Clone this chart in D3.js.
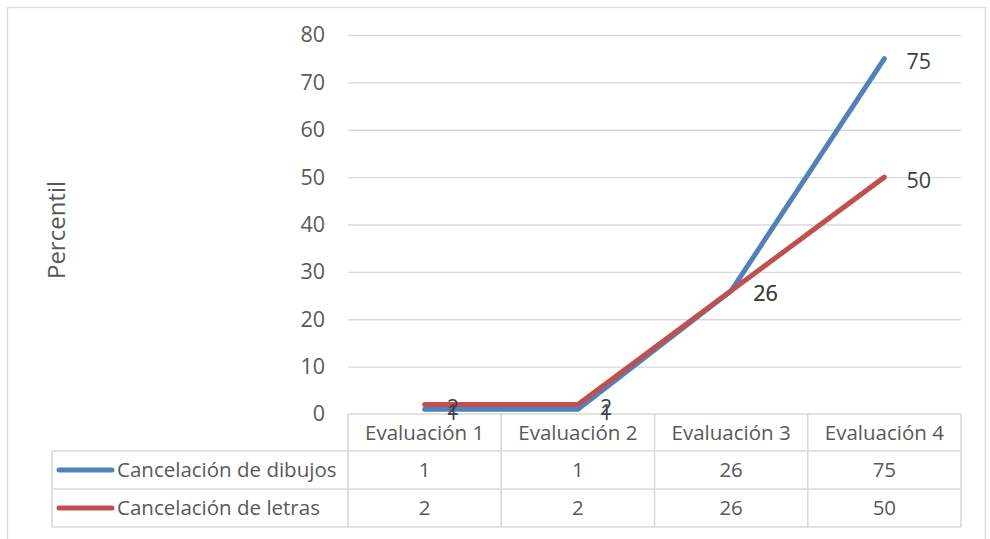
<!DOCTYPE html>
<html>
<head>
<meta charset="utf-8">
<script src="https://cdn.jsdelivr.net/npm/d3@7"></script>
<style>
  html, body { margin: 0; padding: 0; background: #fff; }
  svg { display: block; font-family: "Open Sans", "Noto Sans", sans-serif; }
</style>
</head>
<body>
<svg id="chart" width="990" height="539"></svg>
<script>
// Chart data
const categories = ["Evaluación 1", "Evaluación 2", "Evaluación 3", "Evaluación 4"];
const seriesNames = ["Cancelación de dibujos", "Cancelación de letras"];
const dibujos = [1, 1, 26, 75];
const letras = [2, 2, 26, 50];
const yTicks = [0, 10, 20, 30, 40, 50, 60, 70, 80];
const axisTitle = "Percentil";

const series = [
  { name: seriesNames[0], values: dibujos, color: "#4F81BD" },
  { name: seriesNames[1], values: letras, color: "#C0504D" }
];

const svg = d3.select("#chart");
const gridColor = "#D9D9D9";
const textColor = "#595959";
const labelColor = "#404040";
const tableFont = 20.5;
const tickFont = 21.5;
const labelFont = 21.5;

// Chart frame
svg.append("rect")
  .attr("x", 7.5).attr("y", 7.5)
  .attr("width", 978).attr("height", 545)
  .attr("fill", "#fff").attr("stroke", gridColor).attr("stroke-width", 1.3);

const plot = { left: 348, right: 961, top: 35, bottom: 414 };

const x = d3.scaleBand().domain(categories).range([plot.left, plot.right]).padding(0);
const y = d3.scaleLinear().domain([0, 80]).range([plot.bottom, plot.top]);

// Horizontal gridlines and value axis labels
const yAxis = d3.axisLeft(y).tickValues(yTicks).tickSize(-(plot.right - plot.left)).tickPadding(23);
const gy = svg.append("g").attr("transform", `translate(${plot.left},0)`).call(yAxis);
gy.select(".domain").remove();
gy.selectAll(".tick line").attr("stroke", gridColor).attr("stroke-width", 1.4)
  .filter(d => d === 0).remove();
gy.selectAll(".tick text")
  .attr("fill", textColor).attr("font-size", tickFont)
  .attr("font-family", "'Open Sans', sans-serif");

// Axis title
svg.append("text")
  .attr("transform", `translate(65,230) rotate(-90)`)
  .attr("text-anchor", "middle")
  .attr("fill", textColor).attr("font-size", 24)
  .text(axisTitle);

// Data table below the plot
const rows = { header: [414, 451], r1: [451, 489], r2: [489, 527] };
const tableLeft = 52;
const table = svg.append("g").attr("stroke", gridColor).attr("stroke-width", 1.6).attr("fill", "none");
table.append("line").attr("x1", plot.left).attr("x2", plot.right).attr("y1", rows.header[0]).attr("y2", rows.header[0]);
[rows.r1[0], rows.r2[0], rows.r2[1]].forEach(yy => {
  table.append("line").attr("x1", tableLeft).attr("x2", plot.right).attr("y1", yy).attr("y2", yy);
});
table.append("line").attr("x1", tableLeft).attr("x2", tableLeft).attr("y1", rows.r1[0]).attr("y2", rows.r2[1]);
categories.forEach(c => {
  table.append("line").attr("x1", x(c)).attr("x2", x(c)).attr("y1", rows.header[0]).attr("y2", rows.r2[1]);
});
table.append("line").attr("x1", plot.right).attr("x2", plot.right).attr("y1", rows.header[0]).attr("y2", rows.r2[1]);

const cellText = svg.append("g").attr("fill", textColor).attr("font-size", tableFont).attr("text-anchor", "middle");
categories.forEach(c => {
  cellText.append("text")
    .attr("x", x(c) + x.bandwidth() / 2)
    .attr("y", (rows.header[0] + rows.header[1]) / 2)
    .attr("dy", "0.35em")
    .text(c);
});
const rowBands = [rows.r1, rows.r2];
series.forEach((s, i) => {
  const band = rowBands[i];
  const cy = (band[0] + band[1]) / 2;
  s.values.forEach((v, j) => {
    cellText.append("text")
      .attr("x", x(categories[j]) + x.bandwidth() / 2)
      .attr("y", cy).attr("dy", "0.35em")
      .text(v);
  });
  // legend key inside the table
  svg.append("line")
    .attr("x1", 59).attr("x2", 112).attr("y1", cy).attr("y2", cy)
    .attr("stroke", s.color).attr("stroke-width", 5).attr("stroke-linecap", "round");
  svg.append("text")
    .attr("x", 117).attr("y", cy).attr("dy", "0.35em")
    .attr("fill", textColor).attr("font-size", tableFont)
    .text(s.name);
});

// Series lines
const line = d3.line()
  .x((d, i) => x(categories[i]) + x.bandwidth() / 2)
  .y(d => y(d));
series.forEach(s => {
  svg.append("path")
    .datum(s.values)
    .attr("d", line)
    .attr("fill", "none")
    .attr("stroke", s.color)
    .attr("stroke-width", 5)
    .attr("stroke-linejoin", "round")
    .attr("stroke-linecap", "round");
});

// Data labels to the right of each point
series.forEach(s => {
  s.values.forEach((v, i) => {
    svg.append("text")
      .attr("x", x(categories[i]) + x.bandwidth() / 2 + 22)
      .attr("y", y(v) + 3)
      .attr("dy", "0.35em")
      .attr("fill", labelColor).attr("font-size", labelFont)
      .text(v);
  });
});
</script>
</body>
</html>
